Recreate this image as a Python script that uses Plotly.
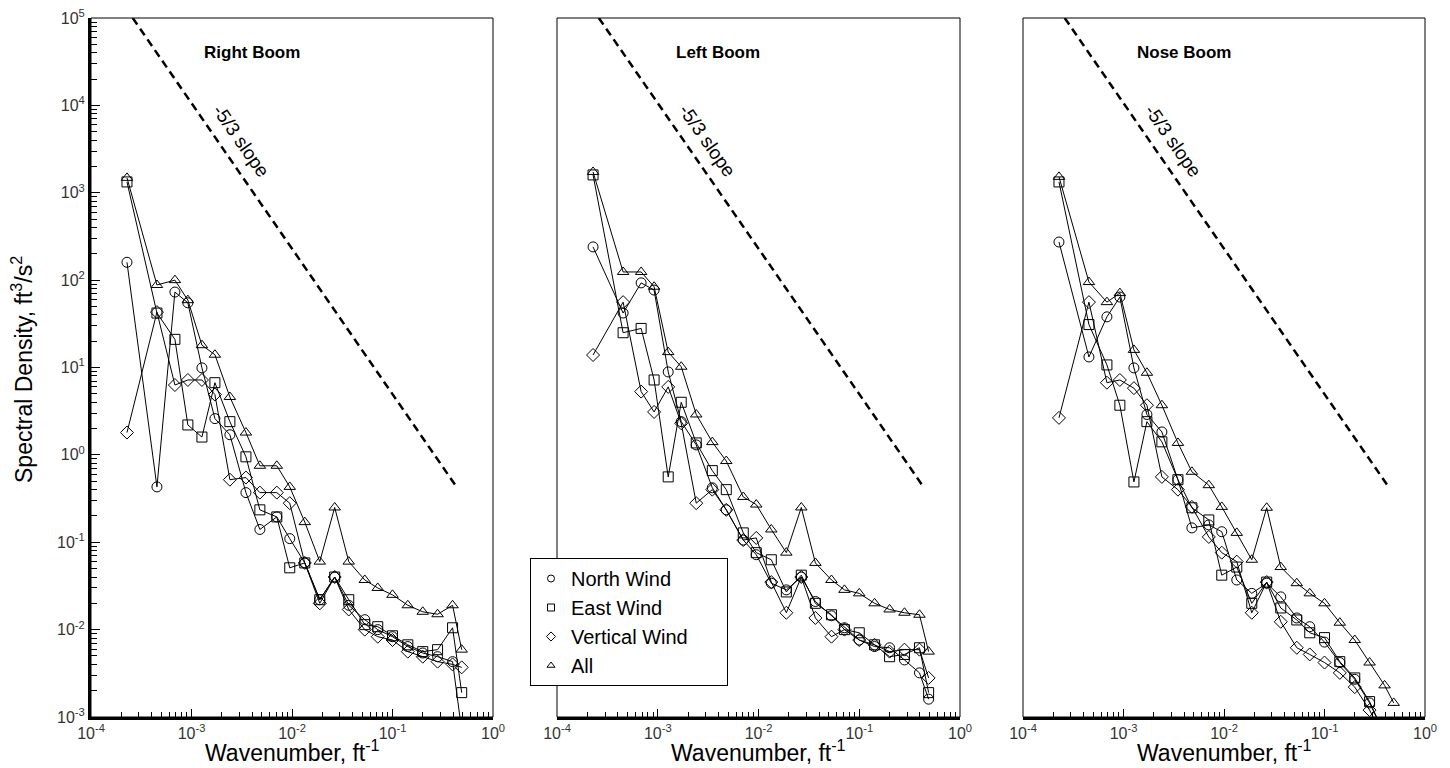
import plotly.graph_objects as go

# ---------------- data ----------------
wavenumber = [2.28e-4, 4.53e-4, 6.84e-4, 9.2e-4, 1.27e-3, 1.71e-3, 2.41e-3, 3.48e-3,
              4.79e-3, 7.06e-3, 9.5e-3, 1.34e-2, 1.89e-2, 2.66e-2, 3.67e-2, 5.3e-2,
              7.13e-2, 0.100, 0.142, 0.200, 0.281, 0.396, 0.488]

panel_titles = ["Right Boom", "Left Boom", "Nose Boom"]
series_names = ["North Wind", "East Wind", "Vertical Wind", "All"]

right_north = [160, 0.43, 73, 55, 9.9, 2.6, 1.7, 0.37, 0.14, 0.195, 0.11, 0.058, 0.022, 0.040,
               0.019, 0.013, 0.010, 0.0083, 0.0064, 0.0054, 0.0049, 0.0043, 0.0007]
right_east = [1330, 42, 21, 2.2, 1.6, 6.7, 2.4, 0.95, 0.235, 0.195, 0.051, 0.058, 0.022, 0.040,
              0.022, 0.0114, 0.0108, 0.0085, 0.0067, 0.0056, 0.0059, 0.0105, 0.0019]
right_vertical = [1.8, 43, 6.3, 7.2, 7.2, 4.9, 0.52, 0.55, 0.37, 0.37, 0.28, 0.058, 0.020, 0.040,
                  0.017, 0.010, 0.0083, 0.0076, 0.0056, 0.0049, 0.0043, 0.0040, 0.0037]
right_all = [1480, 88, 100, 59, 18, 14, 4.6, 1.8, 0.75, 0.75, 0.43, 0.17, 0.060, 0.25,
             0.060, 0.037, 0.030, 0.025, 0.019, 0.016, 0.015, 0.019, 0.0059]

left_north = [240, 42, 93, 77, 8.9, 2.4, 1.3, 0.42, 0.235, 0.106, 0.072, 0.034, 0.0285, 0.040,
              0.021, 0.0144, 0.0105, 0.0076, 0.0064, 0.0062, 0.0045, 0.0032, 0.0016]
left_east = [1600, 25, 28, 7.2, 0.56, 4.0, 1.37, 0.66, 0.40, 0.128, 0.076, 0.063, 0.027, 0.042,
             0.020, 0.0148, 0.010, 0.0092, 0.0067, 0.0049, 0.0052, 0.0062, 0.0019]
left_vertical = [13.9, 56, 5.3, 3.1, 6.0, 2.3, 0.28, 0.40, 0.235, 0.106, 0.112, 0.035, 0.0156, 0.040,
                 0.0136, 0.0083, 0.010, 0.0076, 0.0067, 0.0056, 0.0059, 0.0059, 0.0028]
left_all = [1730, 124, 124, 84, 15, 10.2, 2.9, 1.4, 0.85, 0.33, 0.27, 0.14, 0.076, 0.25,
            0.058, 0.037, 0.0285, 0.026, 0.020, 0.017, 0.0156, 0.0148, 0.0056]

nose_north = [273, 13.2, 38, 64, 9.9, 2.9, 1.83, 0.52, 0.146, 0.158, 0.132, 0.037, 0.026, 0.034,
              0.0237, 0.0136, 0.0108, 0.0072, 0.0042, 0.0027, 0.00145, 0.00063, 0.0003]
nose_east = [1330, 31, 10.7, 3.7, 0.49, 2.4, 1.41, 0.52, 0.248, 0.18, 0.042, 0.052, 0.020, 0.035,
             0.0177, 0.0129, 0.0092, 0.0081, 0.0043, 0.0028, 0.0015, 0.00063, 0.0003]
nose_vertical = [2.65, 56, 6.7, 7.2, 5.8, 3.7, 0.56, 0.40, 0.254, 0.115, 0.076, 0.060, 0.0156, 0.035,
                 0.0123, 0.0062, 0.0052, 0.0042, 0.0032, 0.0022, 0.0012, 0.00055, 0.0003]
nose_all = [1520, 95, 56, 71, 15.9, 8.7, 3.7, 1.37, 0.64, 0.45, 0.254, 0.128, 0.063, 0.248,
            0.052, 0.034, 0.026, 0.020, 0.012, 0.0076, 0.0042, 0.0023, 0.00145]

slope_k = [2.6e-4, 0.44]      # -5/3 reference line end points
slope_s = [1.0e5, 0.42]

x_tick_vals = [1e-4, 1e-3, 1e-2, 1e-1, 1e0]
x_tick_text = ["10<sup>-4</sup>", "10<sup>-3</sup>", "10<sup>-2</sup>", "10<sup>-1</sup>", "10<sup>0</sup>"]
y_tick_vals = [1e-3, 1e-2, 1e-1, 1e0, 1e1, 1e2, 1e3, 1e4, 1e5]
y_tick_text = ["10<sup>-3</sup>", "10<sup>-2</sup>", "10<sup>-1</sup>", "10<sup>0</sup>", "10<sup>1</sup>",
               "10<sup>2</sup>", "10<sup>3</sup>", "10<sup>4</sup>", "10<sup>5</sup>"]

panel_data = [
    [right_north, right_east, right_vertical, right_all],
    [left_north, left_east, left_vertical, left_all],
    [nose_north, nose_east, nose_vertical, nose_all],
]
symbols = ["circle-open", "square-open", "diamond-open", "triangle-up-open"]

# ---------------- styling ----------------
FONT = "Liberation Sans, Arial, sans-serif"
W, H = 1450, 768
x_domains = [[91 / W, 493 / W], [557 / W, 960 / W], [1023 / W, 1425 / W]]

minor_x = [m * 10.0 ** e for e in range(-4, 0) for m in range(2, 10)]
minor_y = [m * 10.0 ** e for e in range(-3, 5) for m in range(2, 10)]

fig = go.Figure()

for p in range(3):
    xa = "x" if p == 0 else f"x{p + 1}"
    ya = "y" if p == 0 else f"y{p + 1}"
    for s in range(4):
        fig.add_trace(go.Scatter(
            x=wavenumber, y=panel_data[p][s], xaxis=xa, yaxis=ya,
            mode="lines+markers", showlegend=False,
            line=dict(color="black", width=1),
            marker=dict(symbol=symbols[s], size=10, color="black", line=dict(width=1, color="black")),
        ))
    fig.add_trace(go.Scatter(
        x=slope_k, y=slope_s, xaxis=xa, yaxis=ya, mode="lines", showlegend=False,
        line=dict(color="black", width=2.5, dash="8px,5px"),
    ))

# legend-only entries (marker only, as in the reference legend); padding widens the box
legend_pad = "\u00a0" * 6
for s in range(4):
    label = series_names[s] + (legend_pad if series_names[s] == "Vertical Wind" else "")
    fig.add_trace(go.Scatter(
        x=[None], y=[None], xaxis="x2", yaxis="y2", mode="markers", name=label,
        legendgroup=series_names[s],
        marker=dict(symbol=symbols[s], size=7, color="black", line=dict(width=1, color="black")),
    ))

layout = dict(
    width=W, height=H,
    margin=dict(l=0, r=0, t=18, b=51),
    paper_bgcolor="white", plot_bgcolor="white",
    font=dict(family=FONT, color="black"),
    showlegend=True,
    legend=dict(x=530 / W, y=(717 - 558) / 699, xanchor="left", yanchor="top",
                bgcolor="white", bordercolor="black", borderwidth=1,
                font=dict(family=FONT, size=20, color="black"), tracegroupgap=0),
)

for p in range(3):
    xk = "xaxis" if p == 0 else f"xaxis{p + 1}"
    yk = "yaxis" if p == 0 else f"yaxis{p + 1}"
    ya = "y" if p == 0 else f"y{p + 1}"
    xa = "x" if p == 0 else f"x{p + 1}"
    layout[xk] = dict(
        type="log", range=[-4, 0], domain=x_domains[p], anchor=ya,
        showgrid=False, zeroline=False, showline=True, linecolor="black", linewidth=3, mirror=False,
        ticks="inside", ticklen=8, tickwidth=1, tickcolor="black",
        tickmode="array", tickvals=x_tick_vals, ticktext=x_tick_text,
        tickfont=dict(family=FONT, size=16, color="#333"),
        minor=dict(tickmode="array", tickvals=minor_x, ticks="inside", ticklen=5, tickcolor="black", tickwidth=1),
        automargin=False,
    )
    ydict = dict(
        type="log", range=[-3, 5], domain=[0, 1], anchor=xa,
        showgrid=False, zeroline=False, automargin=False,
    )
    if p == 0:
        ydict.update(
            showline=True, linecolor="black", linewidth=3, mirror=False,
            ticks="inside", ticklen=9, tickwidth=1, tickcolor="black",
            tickmode="array", tickvals=y_tick_vals, ticktext=y_tick_text,
            tickfont=dict(family=FONT, size=16, color="#333"),
            minor=dict(tickmode="array", tickvals=minor_y, ticks="inside", ticklen=6, tickcolor="black", tickwidth=1),
        )
    else:
        ydict.update(showline=False, showticklabels=False, ticks="")
    layout[yk] = ydict

fig.update_layout(**layout)

shapes = []
annotations = []
for p in range(3):
    xa = "x" if p == 0 else f"x{p + 1}"
    ya = "y" if p == 0 else f"y{p + 1}"
    shapes.append(dict(type="rect", xref=f"{xa} domain", yref=f"{ya} domain",
                       x0=0, x1=1, y0=0, y1=1, line=dict(color="black", width=1), layer="above"))
    annotations.append(dict(text="<b>" + panel_titles[p] + "</b>", xref=f"{xa} domain", yref=f"{ya} domain",
                            x=0.40, y=(717 - 53) / 699, xanchor="center", yanchor="middle", showarrow=False,
                            font=dict(family=FONT, size=17, color="black")))
    annotations.append(dict(text="-5/3 slope", xref=f"{xa} domain", yref=f"{ya} domain",
                            x=(241 - 91) / 402, y=(717 - 140) / 699, xanchor="center", yanchor="middle",
                            showarrow=False, textangle=55,
                            font=dict(family=FONT, size=19, color="black")))
    annotations.append(dict(text="Wavenumber, ft<sup>-1</sup>", xref=f"{xa} domain", yref="paper",
                            x=0.5, y=(717 - 751) / 699, xanchor="center", yanchor="middle", showarrow=False,
                            font=dict(family=FONT, size=23, color="black")))

annotations.append(dict(text="Spectral Density, ft<sup>3</sup>/s<sup>2</sup>", xref="paper", yref="paper",
                        x=22 / W, y=(717 - 370) / 699, xanchor="center", yanchor="middle",
                        showarrow=False, textangle=-90,
                        font=dict(family=FONT, size=23, color="black")))

fig.update_layout(shapes=shapes, annotations=annotations)

fig.write_html("out.html")
